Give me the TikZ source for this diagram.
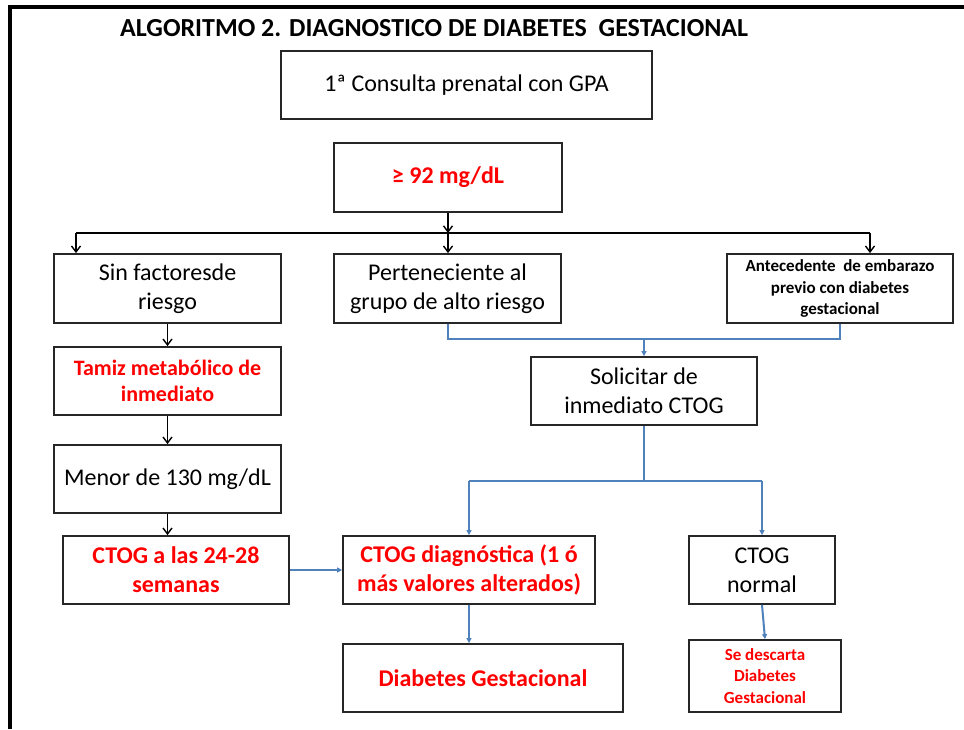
\documentclass[tikz,border=0pt]{standalone}
\usepackage{fontspec}
\setmainfont{Carlito}
\usetikzlibrary{arrows.meta}
\definecolor{boxgray}{HTML}{262626}
\definecolor{ublue}{HTML}{4F81BD}
\definecolor{ured}{HTML}{FF0000}
\tikzset{
  box/.style={draw=boxgray, line width=1.8pt, inner sep=2pt, align=center, text=black,
              font=\fontsize{24}{29}\selectfont},
  redb/.style={text=ured, font=\bfseries\fontsize{24}{29}\selectfont},
  smallb/.style={font=\bfseries\fontsize{17}{21.5}\selectfont},
  blkline/.style={draw=black, line width=1.4pt},
  blk/.style={blkline, -{Straight Barb[length=6pt,width=9pt,line width=1.4pt]}},
  bline/.style={draw=ublue, line width=2pt},
  blu/.style={bline, -{Triangle[length=5pt,width=5pt]}}
}
\begin{document}
\begin{tikzpicture}[x=1pt,y=-1pt]
\useasboundingbox (0,0) rectangle (964,729);
\fill[white] (0,0) rectangle (964,729);
% frame
\draw[line width=4pt] (10,729) -- (10,7) -- (964,7);
% title
\node[anchor=west, inner sep=0pt, font=\bfseries\fontsize{26}{30}\selectfont] (title) at (120,28)
  {ALGORITMO 2. DIAGNOSTICO DE DIABETES \ GESTACIONAL};
% boxes
\node[box, minimum width=371, minimum height=68] (cons) at (466.5,85) {1ª Consulta prenatal con GPA};
\node[box, redb, minimum width=228, minimum height=69] (ge92) at (448,177.5) {≥ 92 mg/dL};
\node[box, minimum width=227, minimum height=69] (sin) at (167.5,288.5) {Sin factoresde\\riesgo};
\node[box, minimum width=227, minimum height=69] (pert) at (447.5,288.5) {Perteneciente al\\grupo de alto riesgo};
\node[box, smallb, minimum width=226, minimum height=69] (ante) at (840,288.5) {Antecedente \ de embarazo\\previo con diabetes\\gestacional};
\node[box, redb, font=\bfseries\fontsize{22}{26}\selectfont, minimum width=227, minimum height=68] (tamiz) at (167.5,381) {Tamiz metabólico de\\inmediato};
\node[box, minimum width=226, minimum height=68] (soli) at (644,391) {Solicitar de\\inmediato CTOG};
\node[box, minimum width=227, minimum height=68] (menor) at (167.5,479) {Menor de 130 mg/dL};
\node[box, redb, minimum width=226, minimum height=68] (c2428) at (176,570) {CTOG a las 24-28\\semanas};
\node[box, redb, minimum width=252, minimum height=68] (cdiag) at (469,570) {CTOG diagnóstica (1 ó\\más valores alterados)};
\node[box, minimum width=146, minimum height=68] (cnorm) at (762,570) {CTOG\\normal};
\node[box, redb, minimum width=280, minimum height=68] (diab) at (483,678) {Diabetes Gestacional};
\node[box, redb, smallb, minimum width=152, minimum height=72] (sedesc) at (765,676) {Se descarta\\Diabetes\\Gestacional};
% black connectors
\coordinate (busL) at (76,233);
\coordinate (busR) at (870,233);
\coordinate (busM) at (448,233);
\draw[blkline] (busL) -- (busR);
\draw[blk] (ge92.south) -- (busM);
\draw[blk] (busM) -- (busM |- pert.north);
\draw[blk] (busL) -- (busL |- sin.north);
\draw[blk] (busR) -- (busR |- ante.north);
\draw[blk] (sin.south) -- (tamiz.north);
\draw[blk] (tamiz.south) -- (menor.north);
\draw[blk] (menor.south) -- (menor.south |- c2428.north);
% blue connectors
\coordinate (jb) at (644,339);
\draw[bline] (pert.south) |- (jb) -| (ante.south);
\draw[blu] (jb) -- (soli.north);
\coordinate (jc) at (644,481);
\coordinate (jcl) at (469,481);
\coordinate (jcr) at (762,481);
\draw[bline] (soli.south) -- (jc);
\draw[bline] (jcl) -- (jcr);
\draw[blu] (jcl) -- (cdiag.north);
\draw[blu] (jcr) -- (cnorm.north);
\draw[blu] (c2428.east) -- (cdiag.west);
\draw[blu] (cdiag.south) -- (cdiag.south |- diab.north);
\draw[blu] (cnorm.south) -- (sedesc.north);
\end{tikzpicture}
\end{document}
